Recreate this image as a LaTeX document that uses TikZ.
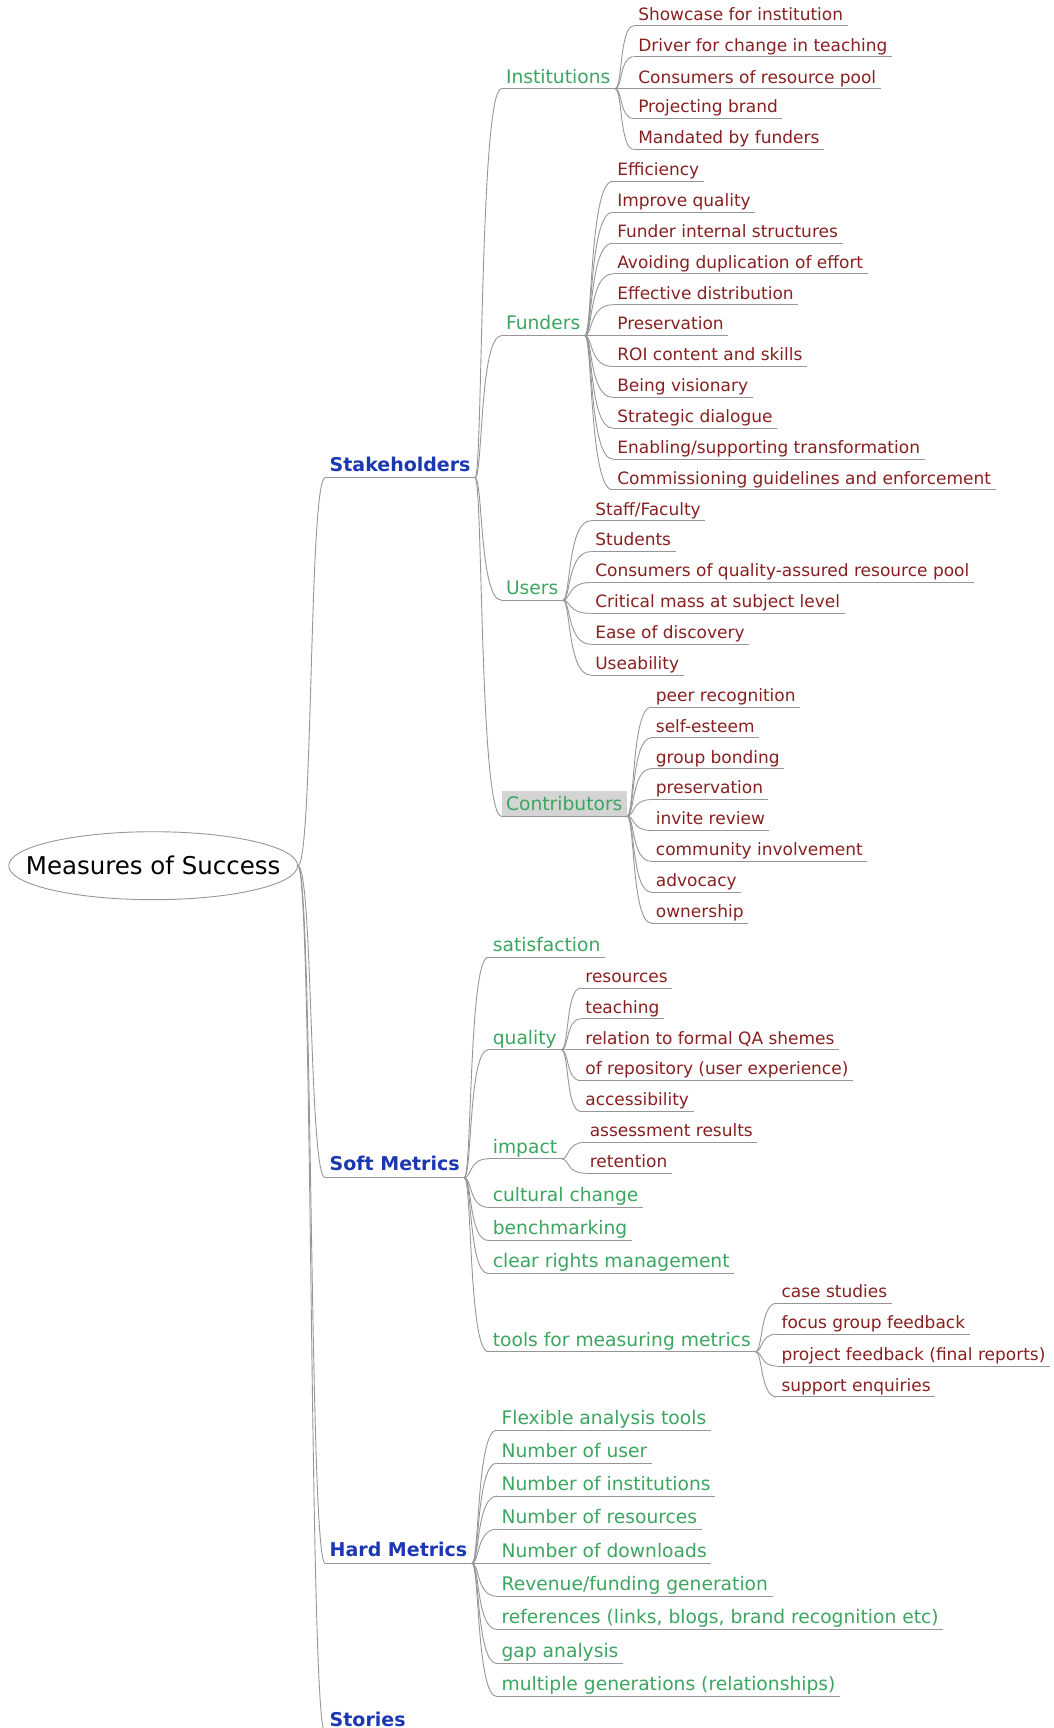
\documentclass[tikz,border=0pt]{standalone}
\usepackage{fontspec}
\setmainfont{DejaVu Sans}
\usetikzlibrary{shapes.geometric,calc}
\definecolor{leafred}{RGB}{135,32,32}
\definecolor{brgreen}{RGB}{60,165,95}
\definecolor{topblue}{RGB}{28,55,178}
\definecolor{linegray}{RGB}{150,150,150}
\definecolor{hlgray}{RGB}{212,212,212}
\newcommand\mmlink[2]{\draw[conn] (#1.south east) .. controls ($(#1.south east)+(7,0)$) and ($(#1.south east |- #2.south west)+(4,0)$) .. (#2.south west);}
\newcommand\mmroot[1]{\draw[conn] (root.east) .. controls ($(root.east)+(14,0)$) and ($(root.east |- #1.south west)+(10,0)$) .. (#1.south west);}
\begin{document}
\begin{tikzpicture}[x=1.1025pt,y=-1.1025pt,
  ul/.style={draw=linegray, line width=0.9pt},
  conn/.style={draw=linegray, line width=0.9pt},
  base/.style={anchor=south west, inner xsep=4.4pt, inner ysep=0pt, text depth=5.5pt,
     append after command={(\tikzlastnode.south west) edge[ul] (\tikzlastnode.south east)}},
  lf/.style={base, font=\fontsize{17}{20}\selectfont, text=leafred, text height=13pt},
  lt/.style={base, font=\fontsize{18.7}{22}\selectfont, text=brgreen, text height=14pt},
  lo/.style={base, font=\bfseries\fontsize{19}{22}\selectfont, text=topblue, text height=14pt, text depth=6.5pt},
]
\useasboundingbox (0,0) rectangle (956,1568);
\begin{scope}[yshift=-1.7pt]
\node[draw=none, minimum width=289pt, minimum height=68pt, inner sep=0pt, font=\fontsize{24.5}{28}\selectfont] (root) at (139,784) {Measures of Success};
\draw[linegray, line width=0.9pt] (root.center) ellipse [x radius=144.5pt, y radius=34pt];

\node[lo] (stk) at (295,432) {Stakeholders};
\node[lo] (soft) at (295,1067) {Soft Metrics};
\node[lo] (hard) at (295,1417) {Hard Metrics};
\node[lo] (stor) at (295,1571) {Stories};

\node[lt] (inst) at (455,79) {Institutions};
\node[lt] (fund) at (455,303) {Funders};
\node[lt] (user) at (455,543) {Users};
\node[lt, fill=hlgray, text height=19pt] (contr) at (455,739) {Contributors};

\node[lf] (i1) at (575,22) {Showcase for institution};
\node[lf] (i2) at (575,50) {Driver for change in teaching};
\node[lf] (i3) at (575,79) {Consumers of resource pool};
\node[lf] (i4) at (575,106) {Projecting brand};
\node[lf] (i5) at (575,134) {Mandated by funders};

\node[lf] (f1) at (556,163) {Efficiency};
\node[lf] (f2) at (556,191) {Improve quality};
\node[lf] (f3) at (556,219) {Funder internal structures};
\node[lf] (f4) at (556,247) {Avoiding duplication of effort};
\node[lf] (f5) at (556,275) {Effective distribution};
\node[lf] (f6) at (556,303) {Preservation};
\node[lf] (f7) at (556,331) {ROI content and skills};
\node[lf] (f8) at (556,359) {Being visionary};
\node[lf] (f9) at (556,387) {Strategic dialogue};
\node[lf] (f10) at (556,415) {Enabling/supporting transformation};
\node[lf] (f11) at (556,443) {Commissioning guidelines and enforcement};

\node[lf] (u1) at (536,471) {Staff/Faculty};
\node[lf] (u2) at (536,499) {Students};
\node[lf] (u3) at (536,527) {Consumers of quality-assured resource pool};
\node[lf] (u4) at (536,555) {Critical mass at subject level};
\node[lf] (u5) at (536,583) {Ease of discovery};
\node[lf] (u6) at (536,611) {Useability};

\node[lf] (c1) at (591,640) {peer recognition};
\node[lf] (c2) at (591,668) {self-esteem};
\node[lf] (c3) at (591,696) {group bonding};
\node[lf] (c4) at (591,724) {preservation};
\node[lf] (c5) at (591,752) {invite review};
\node[lf] (c6) at (591,780) {community involvement};
\node[lf] (c7) at (591,808) {advocacy};
\node[lf] (c8) at (591,836) {ownership};

\node[lt] (sat) at (443,867) {satisfaction};
\node[lt] (qual) at (443,951) {quality};
\node[lt] (imp) at (443,1050) {impact};
\node[lt] (cult) at (443,1094) {cultural change};
\node[lt] (bench) at (443,1124) {benchmarking};
\node[lt] (crm) at (443,1154) {clear rights management};
\node[lt] (tools) at (443,1225) {tools for measuring metrics};

\node[lf] (q1) at (527,895) {resources};
\node[lf] (q2) at (527,923) {teaching};
\node[lf] (q3) at (527,951) {relation to formal QA shemes};
\node[lf] (q4) at (527,979) {of repository (user experience)};
\node[lf] (q5) at (527,1007) {accessibility};

\node[lf] (m1) at (531,1035) {assessment results};
\node[lf] (m2) at (531,1063) {retention};

\node[lf] (t1) at (705,1181) {case studies};
\node[lf] (t2) at (705,1209) {focus group feedback};
\node[lf] (t3) at (705,1238) {project feedback (final reports)};
\node[lf] (t4) at (705,1266) {support enquiries};

\node[lt] (h1) at (451,1296) {Flexible analysis tools};
\node[lt] (h2) at (451,1326) {Number of user};
\node[lt] (h3) at (451,1356) {Number of institutions};
\node[lt] (h4) at (451,1386) {Number of resources};
\node[lt] (h5) at (451,1417) {Number of downloads};
\node[lt] (h6) at (451,1447) {Revenue/funding generation};
\node[lt] (h7) at (451,1477) {references (links, blogs, brand recognition etc)};
\node[lt] (h8) at (451,1508) {gap analysis};
\node[lt] (h9) at (451,1538) {multiple generations (relationships)};

\foreach \c in {stk,soft,hard,stor} {\mmroot{\c}}
\foreach \c in {inst,fund,user,contr} {\mmlink{stk}{\c}}
\foreach \c in {i1,i2,i3,i4,i5} {\mmlink{inst}{\c}}
\foreach \c in {f1,f2,f3,f4,f5,f6,f7,f8,f9,f10,f11} {\mmlink{fund}{\c}}
\foreach \c in {u1,u2,u3,u4,u5,u6} {\mmlink{user}{\c}}
\foreach \c in {c1,c2,c3,c4,c5,c6,c7,c8} {\mmlink{contr}{\c}}
\foreach \c in {sat,qual,imp,cult,bench,crm,tools} {\mmlink{soft}{\c}}
\foreach \c in {q1,q2,q3,q4,q5} {\mmlink{qual}{\c}}
\foreach \c in {m1,m2} {\mmlink{imp}{\c}}
\foreach \c in {t1,t2,t3,t4} {\mmlink{tools}{\c}}
\foreach \c in {h1,h2,h3,h4,h5,h6,h7,h8,h9} {\mmlink{hard}{\c}}
\end{scope}
\end{tikzpicture}
\end{document}
